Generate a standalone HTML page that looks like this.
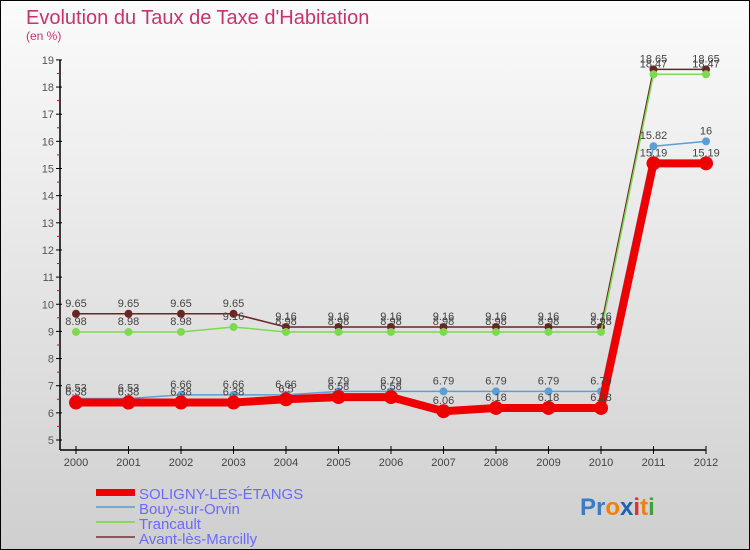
<!DOCTYPE html>
<html><head><meta charset="utf-8"><style>
body{margin:0}
#c{width:750px;height:550px;position:relative;box-sizing:border-box;border:1px solid #000;background:linear-gradient(#fbfbfb,#cfcfcf);font-family:"Liberation Sans",sans-serif;overflow:hidden}
</style></head><body>
<div id="c">
<svg width="748" height="548" viewBox="1 1 748 548" xmlns="http://www.w3.org/2000/svg" id="svg">
<text x="26" y="24" font-size="20" fill="#c8336a">Evolution du Taux de Taxe d'Habitation</text>
<text x="26" y="40" font-size="12" fill="#c8336a">(en %)</text>
<g id="axes"></g><g id="series"></g><g id="labels"></g>
<g>
<rect x="96" y="489" width="39" height="7" fill="#e00"/>
<line x1="96" x2="135" y1="507" y2="507" stroke="#7aa8cc" stroke-width="2"/>
<line x1="96" x2="135" y1="522" y2="522" stroke="#88d860" stroke-width="2"/>
<line x1="96" x2="135" y1="537" y2="537" stroke="#8a5a5a" stroke-width="2"/>
<g font-size="15" fill="#6a6aff">
<text x="139" y="499">SOLIGNY-LES-ÉTANGS</text>
<text x="139" y="514">Bouy-sur-Orvin</text>
<text x="139" y="529">Trancault</text>
<text x="139" y="544">Avant-lès-Marcilly</text>
</g></g>
<g font-size="24" font-weight="bold">
<text x="580" y="515"><tspan fill="#3a7cc8">Pr</tspan><tspan fill="#f08010">o</tspan><tspan fill="#2060b0">x</tspan><tspan fill="#e03030">i</tspan><tspan fill="#f08010">t</tspan><tspan fill="#40a040">i</tspan></text>
</g>
</svg></div>
<script>
const years=[2000,2001,2002,2003,2004,2005,2006,2007,2008,2009,2010,2011,2012];
const soligny=[6.38,6.38,6.38,6.38,6.5,6.58,6.58,6.06,6.18,6.18,6.18,15.19,15.19];
const bouy=[6.53,6.53,6.66,6.66,6.66,6.79,6.79,6.79,6.79,6.79,6.79,15.82,16];
const trancault=[8.98,8.98,8.98,9.16,8.98,8.98,8.98,8.98,8.98,8.98,8.98,18.47,18.47];
const avant=[9.65,9.65,9.65,9.65,9.16,9.16,9.16,9.16,9.16,9.16,9.16,18.65,18.65];
const yTicks=[5,6,7,8,9,10,11,12,13,14,15,16,17,18,19];
const NS="http://www.w3.org/2000/svg";
function X(i){return 76+i*52.5;}
function Y(v){return 440-(v-5)*27.15;}
function mk(tag,attrs,parent,txt){const e=document.createElementNS(NS,tag);for(const k in attrs)e.setAttribute(k,attrs[k]);if(txt!==undefined)e.textContent=txt;parent.appendChild(e);return e;}
const ax=document.getElementById('axes');
let l=mk('line',{x1:60,x2:60,y1:Y(19),y2:450,stroke:'#000','stroke-width':1.5},ax);


l=mk('line',{x1:60,x2:X(12),y1:450,y2:450,stroke:'#000','stroke-width':1.5},ax);


yTicks.forEach(v=>{
 mk('line',{x1:56,x2:62,y1:Y(v),y2:Y(v),stroke:'#000'},ax);
 if(v<19)mk('line',{x1:57,x2:60,y1:Y(v+0.5),y2:Y(v+0.5),stroke:'#e00'},ax);
 const t=mk('text',{x:54,y:Y(v)+4,'font-size':11,fill:'#555','text-anchor':'end'},ax,v);
 
 
});
years.forEach((yr,i)=>{
 mk('line',{x1:X(i),x2:X(i),y1:446,y2:454,stroke:'#000'},ax);
 const t=mk('text',{x:X(i),y:466,'font-size':11,fill:'#444','text-anchor':'middle'},ax,yr);
 
 
});
const sg=document.getElementById('series'),lg=document.getElementById('labels');
function series(data,color,w,r,name){
 const p=mk('polyline',{points:data.map((v,i)=>X(i)+','+Y(v)).join(' '),fill:'none',stroke:color,'stroke-width':w,'stroke-linejoin':'round'},sg);
 
 
 data.forEach((v,i)=>{
  const c=mk('circle',{cx:X(i),cy:Y(v),r:r,fill:color},sg);
  
  
  const t=mk('text',{x:X(i),y:Y(v)-7,'font-size':11,fill:'#444','text-anchor':'middle'},lg,v);
  
  
 });
}
series(avant,'#6b2424',1.5,4,'avant');
series(trancault,'#7ed850',1.5,4,'trancault');
series(bouy,'#5b9fd8',1.5,4,'bouy');
series(soligny,'#ee0000',8,7,'soligny');
</script>
</body></html>
